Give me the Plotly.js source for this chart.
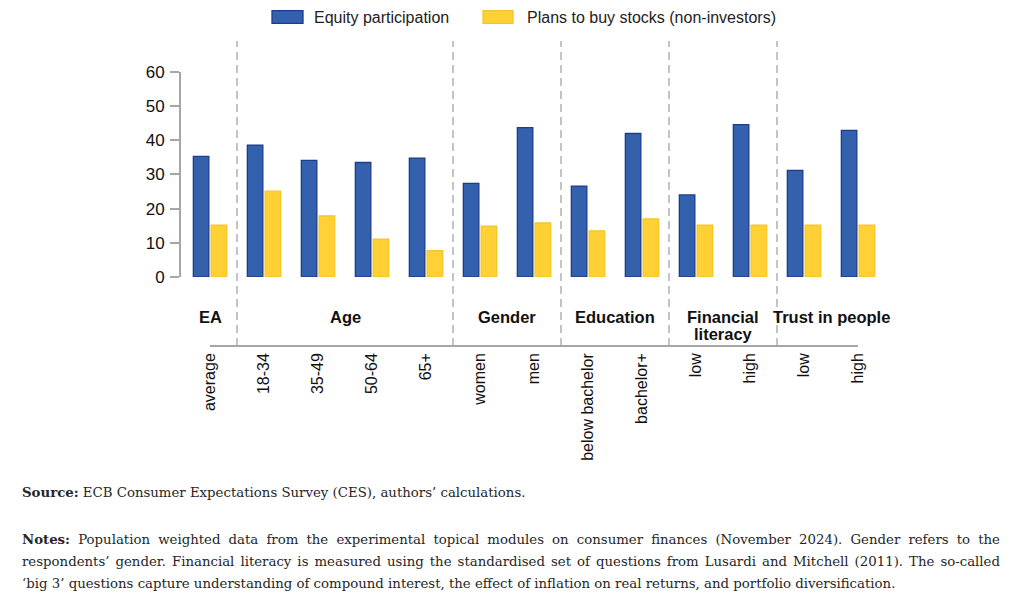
<!DOCTYPE html>
<html>
<head>
<meta charset="utf-8">
<script src="https://cdn.plot.ly/plotly-3.0.1.min.js"></script>
<style>
    body { margin: 0; background: #fff; }
    #wrap { position: relative; width: 1020px; height: 600px; overflow: hidden; }
    #chart { position: absolute; left: 0; top: 0; width: 1020px; height: 600px; }
    .note { position: absolute; left: 22px; font-family: 'DejaVu Serif', serif; font-size: 13.3px;
            color: #262626; white-space: nowrap; }
</style>
</head>
<body>
<div id="wrap">
    <div id="chart"></div>
    <div class="note" style="top:485px; line-height:16px;"><span><b>Source:</b> ECB Consumer Expectations Survey (CES), authors’ calculations.</span></div>
    <div class="note just" style="top:529px; line-height:22px;"><span><b>Notes:</b> Population weighted data from the experimental topical modules on consumer finances (November 2024). Gender refers to the</span></div>
    <div class="note just" style="top:551px; line-height:22px;"><span>respondents’ gender. Financial literacy is measured using the standardised set of questions from Lusardi and Mitchell (2011). The so-called</span></div>
    <div class="note" style="top:573px; line-height:22px;"><span>‘big 3’ questions capture understanding of compound interest, the effect of inflation on real returns, and portfolio diversification.</span></div>
</div>
<script>
    // ── Data ──
    const categories = ['average', '18-34', '35-49', '50-64', '65+', 'women', 'men',
                        'below bachelor', 'bachelor+', 'low', 'high', 'low', 'high'];
    const equityParticipation = [35.3, 38.6, 34.1, 33.5, 34.8, 27.4, 43.7, 26.6, 42.0, 24.0, 44.6, 31.2, 42.9];
    const plansToBuy          = [15.2, 25.1, 17.9, 11.1, 7.7, 14.9, 15.8, 13.5, 17.0, 15.2, 15.2, 15.2, 15.2];
    const groupNames  = ['EA', 'Age', 'Gender', 'Education', 'Financial<br>literacy', 'Trust in people'];
    const groupFirst  = [0, 1, 5, 7, 9, 11];
    const groupLast   = [0, 4, 6, 8, 10, 12];
    const seriesNames = ['Equity participation', 'Plans to buy stocks (non-investors)'];

    const BLUE = '#3461ae', BLUE_EDGE = '#1c3d8c';
    const YELLOW = '#ffd134', YELLOW_EDGE = '#f5c62c';
    const FONT = 'Arial, "Liberation Sans", sans-serif';
    const idx = categories.map((c, i) => i);

    // ── Bar traces ──
    const traces = [
        {
            x: idx, y: equityParticipation, name: seriesNames[0], type: 'bar',
            marker: { color: BLUE, line: { color: BLUE_EDGE, width: 1.3 } },
            hovertemplate: '%{y}<extra></extra>'
        },
        {
            x: idx, y: plansToBuy, name: seriesNames[1], type: 'bar',
            marker: { color: YELLOW, line: { color: YELLOW_EDGE, width: 1.3 } },
            hovertemplate: '%{y}<extra></extra>'
        }
    ];

    // ── Separators, category line, group labels ──
    const shapes = [];
    groupLast.slice(0, -1).forEach(e => {
        shapes.push({
            type: 'line', xref: 'x', yref: 'paper', x0: e + 0.5, x1: e + 0.5, y0: 0, y1: 1.113,
            line: { color: '#c4c4c4', width: 2, dash: '8px,5px' }
        });
    });
    shapes.push({
        type: 'line', xref: 'x', yref: 'paper', x0: idx[0], x1: idx[idx.length - 1], y0: 0, y1: 0,
        line: { color: '#a6a6a6', width: 2 }
    });

    // one annotation per line so the line spacing can be kept tight
    const annotations = [];
    groupNames.forEach((g, i) => {
        g.split('<br>').forEach((line, k) => {
            annotations.push({
                text: line, xref: 'x', yref: 'paper',
                x: (groupFirst[i] + groupLast[i]) / 2, y: 0.146, yshift: -17 * k,
                xanchor: 'center', yanchor: 'top', showarrow: false,
                font: { family: FONT, size: 16.5, color: '#111', weight: 'bold' }
            });
        });
    });

    // hand-drawn legend (wide swatches like the original)
    const legendX = [[0.1289, 0.1728, 0.1856], [0.4278, 0.4703, 0.4873]];
    [[BLUE, BLUE_EDGE], [YELLOW, YELLOW_EDGE]].forEach((c, i) => {
        shapes.push({
            type: 'rect', xref: 'paper', yref: 'paper',
            x0: legendX[i][0], x1: legendX[i][1], y0: 1.1777, y1: 1.2237,
            fillcolor: c[0], line: { color: c[1], width: 1.3 }
        });
        annotations.push({
            text: seriesNames[i], xref: 'paper', yref: 'paper', x: legendX[i][2], y: 1.2007,
            xanchor: 'left', yanchor: 'middle', showarrow: false,
            font: { family: FONT, size: 16, color: '#222' }
        });
    });

    Plotly.newPlot('chart', traces, {
        width: 1020, height: 600,
        margin: { t: 72, r: 133, b: 254, l: 181, pad: 0 },
        showlegend: false,
        barmode: 'group', bargap: 0.34, bargroupgap: 0.13,
        xaxis: {
            anchor: 'free', position: 0,
            range: [-0.537, idx.length - 1 + 0.537],
            tickmode: 'array', tickvals: idx, ticktext: categories,
            tickangle: -90, ticks: '', ticklabelstandoff: 3,
            showline: false, showgrid: false, zeroline: false,
            tickfont: { family: FONT, size: 16, color: '#111' }
        },
        yaxis: {
            domain: [0.252, 1], range: [0, 60], dtick: 10,
            showline: true, linecolor: '#a6a6a6', linewidth: 2,
            ticks: 'outside', ticklen: 9, tickwidth: 2, tickcolor: '#a6a6a6',
            ticklabelstandoff: 2,
            showgrid: false, zeroline: false,
            tickfont: { family: FONT, size: 17, color: '#111' }
        },
        shapes: shapes,
        annotations: annotations,
        paper_bgcolor: '#fff',
        plot_bgcolor: '#fff',
        font: { family: FONT }
    }, { displayModeBar: false, staticPlot: true });

    // ── Justify the notes lines to the full text width ──
    const FULL = 978;
    document.querySelectorAll('.just span').forEach(span => {
        const spaces = (span.textContent.match(/ /g) || []).length;
        const w = span.getBoundingClientRect().width;
        span.style.wordSpacing = ((FULL - w) / spaces) + 'px';
    });
</script>
</body>
</html>
